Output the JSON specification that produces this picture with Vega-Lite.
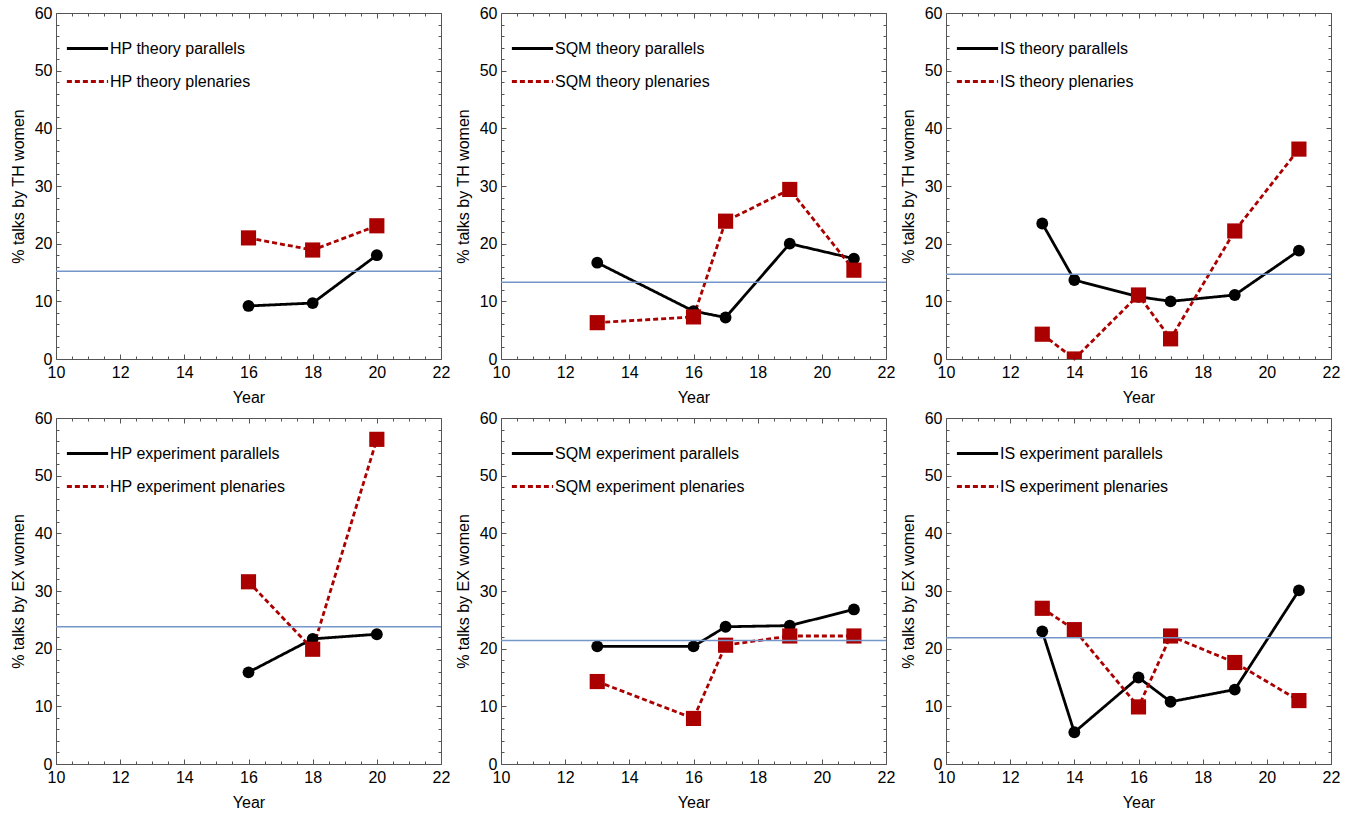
{
  "$schema": "https://vega.github.io/schema/vega-lite/v6.json",
  "padding": {"left": 10, "top": 5, "right": 5, "bottom": 5},
  "config": {
    "font": "Liberation Sans",
    "view": {"stroke": null},
    "axis": {"grid": false, "domainColor": "#555555", "tickColor": "#555555", "domainWidth": 1, "tickWidth": 1, "labelFont": "Liberation Sans", "labelFontSize": 16, "labelColor": "#000000", "titleFont": "Liberation Sans", "titleFontSize": 16, "titleFontWeight": "normal", "titleColor": "#000000", "labelFlush": false, "labelOverlap": false},
    "legend": {"labelLimit": 0}
  },
  "datasets": {
    "pts": [
      {"panel":"HP_TH","kind":"par","series":"HP theory parallels","year":16,"pct":9.2},
      {"panel":"HP_TH","kind":"par","series":"HP theory parallels","year":18,"pct":9.7},
      {"panel":"HP_TH","kind":"par","series":"HP theory parallels","year":20,"pct":18.0},
      {"panel":"HP_TH","kind":"plen","series":"HP theory plenaries","year":16,"pct":21.0},
      {"panel":"HP_TH","kind":"plen","series":"HP theory plenaries","year":18,"pct":18.9},
      {"panel":"HP_TH","kind":"plen","series":"HP theory plenaries","year":20,"pct":23.1},
      {"panel":"SQM_TH","kind":"par","series":"SQM theory parallels","year":13,"pct":16.7},
      {"panel":"SQM_TH","kind":"par","series":"SQM theory parallels","year":16,"pct":8.3},
      {"panel":"SQM_TH","kind":"par","series":"SQM theory parallels","year":17,"pct":7.2},
      {"panel":"SQM_TH","kind":"par","series":"SQM theory parallels","year":19,"pct":20.0},
      {"panel":"SQM_TH","kind":"par","series":"SQM theory parallels","year":21,"pct":17.4},
      {"panel":"SQM_TH","kind":"plen","series":"SQM theory plenaries","year":13,"pct":6.3},
      {"panel":"SQM_TH","kind":"plen","series":"SQM theory plenaries","year":16,"pct":7.3},
      {"panel":"SQM_TH","kind":"plen","series":"SQM theory plenaries","year":17,"pct":23.9},
      {"panel":"SQM_TH","kind":"plen","series":"SQM theory plenaries","year":19,"pct":29.4},
      {"panel":"SQM_TH","kind":"plen","series":"SQM theory plenaries","year":21,"pct":15.4},
      {"panel":"IS_TH","kind":"par","series":"IS theory parallels","year":13,"pct":23.5},
      {"panel":"IS_TH","kind":"par","series":"IS theory parallels","year":14,"pct":13.7},
      {"panel":"IS_TH","kind":"par","series":"IS theory parallels","year":16,"pct":10.8},
      {"panel":"IS_TH","kind":"par","series":"IS theory parallels","year":17,"pct":10.0},
      {"panel":"IS_TH","kind":"par","series":"IS theory parallels","year":19,"pct":11.1},
      {"panel":"IS_TH","kind":"par","series":"IS theory parallels","year":21,"pct":18.8},
      {"panel":"IS_TH","kind":"plen","series":"IS theory plenaries","year":13,"pct":4.3},
      {"panel":"IS_TH","kind":"plen","series":"IS theory plenaries","year":14,"pct":0.0},
      {"panel":"IS_TH","kind":"plen","series":"IS theory plenaries","year":16,"pct":11.1},
      {"panel":"IS_TH","kind":"plen","series":"IS theory plenaries","year":17,"pct":3.5},
      {"panel":"IS_TH","kind":"plen","series":"IS theory plenaries","year":19,"pct":22.2},
      {"panel":"IS_TH","kind":"plen","series":"IS theory plenaries","year":21,"pct":36.4},
      {"panel":"HP_EX","kind":"par","series":"HP experiment parallels","year":16,"pct":15.9},
      {"panel":"HP_EX","kind":"par","series":"HP experiment parallels","year":18,"pct":21.7},
      {"panel":"HP_EX","kind":"par","series":"HP experiment parallels","year":20,"pct":22.5},
      {"panel":"HP_EX","kind":"plen","series":"HP experiment plenaries","year":16,"pct":31.6},
      {"panel":"HP_EX","kind":"plen","series":"HP experiment plenaries","year":18,"pct":19.9},
      {"panel":"HP_EX","kind":"plen","series":"HP experiment plenaries","year":20,"pct":56.3},
      {"panel":"SQM_EX","kind":"par","series":"SQM experiment parallels","year":13,"pct":20.4},
      {"panel":"SQM_EX","kind":"par","series":"SQM experiment parallels","year":16,"pct":20.4},
      {"panel":"SQM_EX","kind":"par","series":"SQM experiment parallels","year":17,"pct":23.8},
      {"panel":"SQM_EX","kind":"par","series":"SQM experiment parallels","year":19,"pct":24.0},
      {"panel":"SQM_EX","kind":"par","series":"SQM experiment parallels","year":21,"pct":26.8},
      {"panel":"SQM_EX","kind":"plen","series":"SQM experiment plenaries","year":13,"pct":14.3},
      {"panel":"SQM_EX","kind":"plen","series":"SQM experiment plenaries","year":16,"pct":7.9},
      {"panel":"SQM_EX","kind":"plen","series":"SQM experiment plenaries","year":17,"pct":20.6},
      {"panel":"SQM_EX","kind":"plen","series":"SQM experiment plenaries","year":19,"pct":22.2},
      {"panel":"SQM_EX","kind":"plen","series":"SQM experiment plenaries","year":21,"pct":22.2},
      {"panel":"IS_EX","kind":"par","series":"IS experiment parallels","year":13,"pct":23.0},
      {"panel":"IS_EX","kind":"par","series":"IS experiment parallels","year":14,"pct":5.5},
      {"panel":"IS_EX","kind":"par","series":"IS experiment parallels","year":16,"pct":15.0},
      {"panel":"IS_EX","kind":"par","series":"IS experiment parallels","year":17,"pct":10.8},
      {"panel":"IS_EX","kind":"par","series":"IS experiment parallels","year":19,"pct":12.9},
      {"panel":"IS_EX","kind":"par","series":"IS experiment parallels","year":21,"pct":30.1},
      {"panel":"IS_EX","kind":"plen","series":"IS experiment plenaries","year":13,"pct":27.0},
      {"panel":"IS_EX","kind":"plen","series":"IS experiment plenaries","year":14,"pct":23.3},
      {"panel":"IS_EX","kind":"plen","series":"IS experiment plenaries","year":16,"pct":9.9},
      {"panel":"IS_EX","kind":"plen","series":"IS experiment plenaries","year":17,"pct":22.2},
      {"panel":"IS_EX","kind":"plen","series":"IS experiment plenaries","year":19,"pct":17.6},
      {"panel":"IS_EX","kind":"plen","series":"IS experiment plenaries","year":21,"pct":11.0}
    ],
    "avg": [
      {"panel":"HP_TH","avg":15.2},
      {"panel":"SQM_TH","avg":13.3},
      {"panel":"IS_TH","avg":14.7},
      {"panel":"HP_EX","avg":23.8},
      {"panel":"SQM_EX","avg":21.4},
      {"panel":"IS_EX","avg":21.9}
    ]
  },
  "bounds": "flush",
  "columns": 3,
  "spacing": {"row": 59, "column": 60},
  "resolve": {"scale": {"color": "independent", "strokeDash": "independent"}, "legend": {"color": "independent", "strokeDash": "independent"}},
  "concat": [
        {
          "width": 385, "height": 346,
          "layer": [
            {"data": {"name": "pts"}, "transform": [{"filter": "datum.panel === 'HP_TH'"}],
             "mark": {"type": "line", "strokeWidth": 2.8},
             "encoding": {
               "x": {"field": "year", "type": "quantitative", "scale": {"domain": [10, 22], "nice": false, "zero": false}, "axis": {"orient": "bottom", "values": [10,12,14,16,18,20,22], "tickSize": -5, "labelPadding": 10, "title": "Year", "titlePadding": 9}},
               "y": {"field": "pct", "type": "quantitative", "scale": {"domain": [0, 60], "nice": false}, "axis": {"orient": "left", "values": [0,10,20,30,40,50,60], "tickSize": -5, "labelPadding": 9, "title": "% talks by TH women", "titlePadding": 8}},
               "color": {"field": "series", "type": "nominal", "scale": {"range": ["#000000", "#aa0000"]}, "legend": {"title": null, "orient": "none", "legendX": 9, "legendY": 13, "symbolType": "stroke", "symbolSize": 1700, "symbolStrokeWidth": 3, "labelFontSize": 16, "labelColor": "#000000", "rowPadding": 2, "labelOffset": 0}},
               "strokeDash": {"field": "series", "type": "nominal", "scale": {"range": [[1, 0], [5, 3]]}, "legend": {"title": null, "orient": "none", "legendX": 9, "legendY": 13, "symbolType": "stroke", "symbolSize": 1700, "symbolStrokeWidth": 3, "labelFontSize": 16, "labelColor": "#000000", "rowPadding": 2, "labelOffset": 0}}
             }},
            {"data": {"name": "pts"}, "transform": [{"filter": "datum.panel === 'HP_TH' && datum.kind === 'par'"}],
             "mark": {"type": "circle", "size": 140, "color": "#000000", "opacity": 1},
             "encoding": {
               "x": {"field": "year", "type": "quantitative", "axis": {"orient": "bottom", "values": [10.5,11,11.5,12.5,13,13.5,14.5,15,15.5,16.5,17,17.5,18.5,19,19.5,20.5,21,21.5], "tickSize": -3, "labels": false, "domain": false, "title": null}},
               "y": {"field": "pct", "type": "quantitative", "axis": {"orient": "left", "values": [2,4,6,8,12,14,16,18,22,24,26,28,32,34,36,38,42,44,46,48,52,54,56,58], "tickSize": -3, "labels": false, "domain": false, "title": null}}
             }},
            {"data": {"name": "pts"}, "transform": [{"filter": "datum.panel === 'HP_TH' && datum.kind === 'plen'"}],
             "mark": {"type": "square", "size": 230, "color": "#aa0000", "opacity": 1, "clip": true},
             "encoding": {
               "x": {"field": "year", "type": "quantitative", "axis": {"orient": "top", "values": [10,12,14,16,18,20,22], "tickSize": -5, "labels": false, "title": null}},
               "y": {"field": "pct", "type": "quantitative", "axis": {"orient": "right", "values": [0,10,20,30,40,50,60], "tickSize": -5, "labels": false, "title": null}}
             }},
            {"data": {"name": "avg"}, "transform": [{"filter": "datum.panel === 'HP_TH'"}],
             "mark": {"type": "rule", "color": "#7596c9", "strokeWidth": 1.5},
             "encoding": {
               "x": {"datum": 10, "type": "quantitative", "axis": {"orient": "top", "values": [10.5,11,11.5,12.5,13,13.5,14.5,15,15.5,16.5,17,17.5,18.5,19,19.5,20.5,21,21.5], "tickSize": -3, "labels": false, "domain": false, "title": null}},
               "x2": {"datum": 22},
               "y": {"field": "avg", "type": "quantitative", "axis": {"orient": "right", "values": [2,4,6,8,12,14,16,18,22,24,26,28,32,34,36,38,42,44,46,48,52,54,56,58], "tickSize": -3, "labels": false, "domain": false, "title": null}}
             }}
          ],
          "resolve": {"axis": {"x": "independent", "y": "independent"}}
        },
        {
          "width": 385, "height": 346,
          "layer": [
            {"data": {"name": "pts"}, "transform": [{"filter": "datum.panel === 'SQM_TH'"}],
             "mark": {"type": "line", "strokeWidth": 2.8},
             "encoding": {
               "x": {"field": "year", "type": "quantitative", "scale": {"domain": [10, 22], "nice": false, "zero": false}, "axis": {"orient": "bottom", "values": [10,12,14,16,18,20,22], "tickSize": -5, "labelPadding": 10, "title": "Year", "titlePadding": 9}},
               "y": {"field": "pct", "type": "quantitative", "scale": {"domain": [0, 60], "nice": false}, "axis": {"orient": "left", "values": [0,10,20,30,40,50,60], "tickSize": -5, "labelPadding": 9, "title": "% talks by TH women", "titlePadding": 8}},
               "color": {"field": "series", "type": "nominal", "scale": {"range": ["#000000", "#aa0000"]}, "legend": {"title": null, "orient": "none", "legendX": 9, "legendY": 13, "symbolType": "stroke", "symbolSize": 1700, "symbolStrokeWidth": 3, "labelFontSize": 16, "labelColor": "#000000", "rowPadding": 2, "labelOffset": 0}},
               "strokeDash": {"field": "series", "type": "nominal", "scale": {"range": [[1, 0], [5, 3]]}, "legend": {"title": null, "orient": "none", "legendX": 9, "legendY": 13, "symbolType": "stroke", "symbolSize": 1700, "symbolStrokeWidth": 3, "labelFontSize": 16, "labelColor": "#000000", "rowPadding": 2, "labelOffset": 0}}
             }},
            {"data": {"name": "pts"}, "transform": [{"filter": "datum.panel === 'SQM_TH' && datum.kind === 'par'"}],
             "mark": {"type": "circle", "size": 140, "color": "#000000", "opacity": 1},
             "encoding": {
               "x": {"field": "year", "type": "quantitative", "axis": {"orient": "bottom", "values": [10.5,11,11.5,12.5,13,13.5,14.5,15,15.5,16.5,17,17.5,18.5,19,19.5,20.5,21,21.5], "tickSize": -3, "labels": false, "domain": false, "title": null}},
               "y": {"field": "pct", "type": "quantitative", "axis": {"orient": "left", "values": [2,4,6,8,12,14,16,18,22,24,26,28,32,34,36,38,42,44,46,48,52,54,56,58], "tickSize": -3, "labels": false, "domain": false, "title": null}}
             }},
            {"data": {"name": "pts"}, "transform": [{"filter": "datum.panel === 'SQM_TH' && datum.kind === 'plen'"}],
             "mark": {"type": "square", "size": 230, "color": "#aa0000", "opacity": 1, "clip": true},
             "encoding": {
               "x": {"field": "year", "type": "quantitative", "axis": {"orient": "top", "values": [10,12,14,16,18,20,22], "tickSize": -5, "labels": false, "title": null}},
               "y": {"field": "pct", "type": "quantitative", "axis": {"orient": "right", "values": [0,10,20,30,40,50,60], "tickSize": -5, "labels": false, "title": null}}
             }},
            {"data": {"name": "avg"}, "transform": [{"filter": "datum.panel === 'SQM_TH'"}],
             "mark": {"type": "rule", "color": "#7596c9", "strokeWidth": 1.5},
             "encoding": {
               "x": {"datum": 10, "type": "quantitative", "axis": {"orient": "top", "values": [10.5,11,11.5,12.5,13,13.5,14.5,15,15.5,16.5,17,17.5,18.5,19,19.5,20.5,21,21.5], "tickSize": -3, "labels": false, "domain": false, "title": null}},
               "x2": {"datum": 22},
               "y": {"field": "avg", "type": "quantitative", "axis": {"orient": "right", "values": [2,4,6,8,12,14,16,18,22,24,26,28,32,34,36,38,42,44,46,48,52,54,56,58], "tickSize": -3, "labels": false, "domain": false, "title": null}}
             }}
          ],
          "resolve": {"axis": {"x": "independent", "y": "independent"}}
        },
        {
          "width": 385, "height": 346,
          "layer": [
            {"data": {"name": "pts"}, "transform": [{"filter": "datum.panel === 'IS_TH'"}],
             "mark": {"type": "line", "strokeWidth": 2.8},
             "encoding": {
               "x": {"field": "year", "type": "quantitative", "scale": {"domain": [10, 22], "nice": false, "zero": false}, "axis": {"orient": "bottom", "values": [10,12,14,16,18,20,22], "tickSize": -5, "labelPadding": 10, "title": "Year", "titlePadding": 9}},
               "y": {"field": "pct", "type": "quantitative", "scale": {"domain": [0, 60], "nice": false}, "axis": {"orient": "left", "values": [0,10,20,30,40,50,60], "tickSize": -5, "labelPadding": 9, "title": "% talks by TH women", "titlePadding": 8}},
               "color": {"field": "series", "type": "nominal", "scale": {"range": ["#000000", "#aa0000"]}, "legend": {"title": null, "orient": "none", "legendX": 9, "legendY": 13, "symbolType": "stroke", "symbolSize": 1700, "symbolStrokeWidth": 3, "labelFontSize": 16, "labelColor": "#000000", "rowPadding": 2, "labelOffset": 0}},
               "strokeDash": {"field": "series", "type": "nominal", "scale": {"range": [[1, 0], [5, 3]]}, "legend": {"title": null, "orient": "none", "legendX": 9, "legendY": 13, "symbolType": "stroke", "symbolSize": 1700, "symbolStrokeWidth": 3, "labelFontSize": 16, "labelColor": "#000000", "rowPadding": 2, "labelOffset": 0}}
             }},
            {"data": {"name": "pts"}, "transform": [{"filter": "datum.panel === 'IS_TH' && datum.kind === 'par'"}],
             "mark": {"type": "circle", "size": 140, "color": "#000000", "opacity": 1},
             "encoding": {
               "x": {"field": "year", "type": "quantitative", "axis": {"orient": "bottom", "values": [10.5,11,11.5,12.5,13,13.5,14.5,15,15.5,16.5,17,17.5,18.5,19,19.5,20.5,21,21.5], "tickSize": -3, "labels": false, "domain": false, "title": null}},
               "y": {"field": "pct", "type": "quantitative", "axis": {"orient": "left", "values": [2,4,6,8,12,14,16,18,22,24,26,28,32,34,36,38,42,44,46,48,52,54,56,58], "tickSize": -3, "labels": false, "domain": false, "title": null}}
             }},
            {"data": {"name": "pts"}, "transform": [{"filter": "datum.panel === 'IS_TH' && datum.kind === 'plen'"}],
             "mark": {"type": "square", "size": 230, "color": "#aa0000", "opacity": 1, "clip": true},
             "encoding": {
               "x": {"field": "year", "type": "quantitative", "axis": {"orient": "top", "values": [10,12,14,16,18,20,22], "tickSize": -5, "labels": false, "title": null}},
               "y": {"field": "pct", "type": "quantitative", "axis": {"orient": "right", "values": [0,10,20,30,40,50,60], "tickSize": -5, "labels": false, "title": null}}
             }},
            {"data": {"name": "avg"}, "transform": [{"filter": "datum.panel === 'IS_TH'"}],
             "mark": {"type": "rule", "color": "#7596c9", "strokeWidth": 1.5},
             "encoding": {
               "x": {"datum": 10, "type": "quantitative", "axis": {"orient": "top", "values": [10.5,11,11.5,12.5,13,13.5,14.5,15,15.5,16.5,17,17.5,18.5,19,19.5,20.5,21,21.5], "tickSize": -3, "labels": false, "domain": false, "title": null}},
               "x2": {"datum": 22},
               "y": {"field": "avg", "type": "quantitative", "axis": {"orient": "right", "values": [2,4,6,8,12,14,16,18,22,24,26,28,32,34,36,38,42,44,46,48,52,54,56,58], "tickSize": -3, "labels": false, "domain": false, "title": null}}
             }}
          ],
          "resolve": {"axis": {"x": "independent", "y": "independent"}}
        },
        {
          "width": 385, "height": 346,
          "layer": [
            {"data": {"name": "pts"}, "transform": [{"filter": "datum.panel === 'HP_EX'"}],
             "mark": {"type": "line", "strokeWidth": 2.8},
             "encoding": {
               "x": {"field": "year", "type": "quantitative", "scale": {"domain": [10, 22], "nice": false, "zero": false}, "axis": {"orient": "bottom", "values": [10,12,14,16,18,20,22], "tickSize": -5, "labelPadding": 10, "title": "Year", "titlePadding": 9}},
               "y": {"field": "pct", "type": "quantitative", "scale": {"domain": [0, 60], "nice": false}, "axis": {"orient": "left", "values": [0,10,20,30,40,50,60], "tickSize": -5, "labelPadding": 9, "title": "% talks by EX women", "titlePadding": 8}},
               "color": {"field": "series", "type": "nominal", "scale": {"range": ["#000000", "#aa0000"]}, "legend": {"title": null, "orient": "none", "legendX": 9, "legendY": 13, "symbolType": "stroke", "symbolSize": 1700, "symbolStrokeWidth": 3, "labelFontSize": 16, "labelColor": "#000000", "rowPadding": 2, "labelOffset": 0}},
               "strokeDash": {"field": "series", "type": "nominal", "scale": {"range": [[1, 0], [5, 3]]}, "legend": {"title": null, "orient": "none", "legendX": 9, "legendY": 13, "symbolType": "stroke", "symbolSize": 1700, "symbolStrokeWidth": 3, "labelFontSize": 16, "labelColor": "#000000", "rowPadding": 2, "labelOffset": 0}}
             }},
            {"data": {"name": "pts"}, "transform": [{"filter": "datum.panel === 'HP_EX' && datum.kind === 'par'"}],
             "mark": {"type": "circle", "size": 140, "color": "#000000", "opacity": 1},
             "encoding": {
               "x": {"field": "year", "type": "quantitative", "axis": {"orient": "bottom", "values": [10.5,11,11.5,12.5,13,13.5,14.5,15,15.5,16.5,17,17.5,18.5,19,19.5,20.5,21,21.5], "tickSize": -3, "labels": false, "domain": false, "title": null}},
               "y": {"field": "pct", "type": "quantitative", "axis": {"orient": "left", "values": [2,4,6,8,12,14,16,18,22,24,26,28,32,34,36,38,42,44,46,48,52,54,56,58], "tickSize": -3, "labels": false, "domain": false, "title": null}}
             }},
            {"data": {"name": "pts"}, "transform": [{"filter": "datum.panel === 'HP_EX' && datum.kind === 'plen'"}],
             "mark": {"type": "square", "size": 230, "color": "#aa0000", "opacity": 1, "clip": true},
             "encoding": {
               "x": {"field": "year", "type": "quantitative", "axis": {"orient": "top", "values": [10,12,14,16,18,20,22], "tickSize": -5, "labels": false, "title": null}},
               "y": {"field": "pct", "type": "quantitative", "axis": {"orient": "right", "values": [0,10,20,30,40,50,60], "tickSize": -5, "labels": false, "title": null}}
             }},
            {"data": {"name": "avg"}, "transform": [{"filter": "datum.panel === 'HP_EX'"}],
             "mark": {"type": "rule", "color": "#7596c9", "strokeWidth": 1.5},
             "encoding": {
               "x": {"datum": 10, "type": "quantitative", "axis": {"orient": "top", "values": [10.5,11,11.5,12.5,13,13.5,14.5,15,15.5,16.5,17,17.5,18.5,19,19.5,20.5,21,21.5], "tickSize": -3, "labels": false, "domain": false, "title": null}},
               "x2": {"datum": 22},
               "y": {"field": "avg", "type": "quantitative", "axis": {"orient": "right", "values": [2,4,6,8,12,14,16,18,22,24,26,28,32,34,36,38,42,44,46,48,52,54,56,58], "tickSize": -3, "labels": false, "domain": false, "title": null}}
             }}
          ],
          "resolve": {"axis": {"x": "independent", "y": "independent"}}
        },
        {
          "width": 385, "height": 346,
          "layer": [
            {"data": {"name": "pts"}, "transform": [{"filter": "datum.panel === 'SQM_EX'"}],
             "mark": {"type": "line", "strokeWidth": 2.8},
             "encoding": {
               "x": {"field": "year", "type": "quantitative", "scale": {"domain": [10, 22], "nice": false, "zero": false}, "axis": {"orient": "bottom", "values": [10,12,14,16,18,20,22], "tickSize": -5, "labelPadding": 10, "title": "Year", "titlePadding": 9}},
               "y": {"field": "pct", "type": "quantitative", "scale": {"domain": [0, 60], "nice": false}, "axis": {"orient": "left", "values": [0,10,20,30,40,50,60], "tickSize": -5, "labelPadding": 9, "title": "% talks by EX women", "titlePadding": 8}},
               "color": {"field": "series", "type": "nominal", "scale": {"range": ["#000000", "#aa0000"]}, "legend": {"title": null, "orient": "none", "legendX": 9, "legendY": 13, "symbolType": "stroke", "symbolSize": 1700, "symbolStrokeWidth": 3, "labelFontSize": 16, "labelColor": "#000000", "rowPadding": 2, "labelOffset": 0}},
               "strokeDash": {"field": "series", "type": "nominal", "scale": {"range": [[1, 0], [5, 3]]}, "legend": {"title": null, "orient": "none", "legendX": 9, "legendY": 13, "symbolType": "stroke", "symbolSize": 1700, "symbolStrokeWidth": 3, "labelFontSize": 16, "labelColor": "#000000", "rowPadding": 2, "labelOffset": 0}}
             }},
            {"data": {"name": "pts"}, "transform": [{"filter": "datum.panel === 'SQM_EX' && datum.kind === 'par'"}],
             "mark": {"type": "circle", "size": 140, "color": "#000000", "opacity": 1},
             "encoding": {
               "x": {"field": "year", "type": "quantitative", "axis": {"orient": "bottom", "values": [10.5,11,11.5,12.5,13,13.5,14.5,15,15.5,16.5,17,17.5,18.5,19,19.5,20.5,21,21.5], "tickSize": -3, "labels": false, "domain": false, "title": null}},
               "y": {"field": "pct", "type": "quantitative", "axis": {"orient": "left", "values": [2,4,6,8,12,14,16,18,22,24,26,28,32,34,36,38,42,44,46,48,52,54,56,58], "tickSize": -3, "labels": false, "domain": false, "title": null}}
             }},
            {"data": {"name": "pts"}, "transform": [{"filter": "datum.panel === 'SQM_EX' && datum.kind === 'plen'"}],
             "mark": {"type": "square", "size": 230, "color": "#aa0000", "opacity": 1, "clip": true},
             "encoding": {
               "x": {"field": "year", "type": "quantitative", "axis": {"orient": "top", "values": [10,12,14,16,18,20,22], "tickSize": -5, "labels": false, "title": null}},
               "y": {"field": "pct", "type": "quantitative", "axis": {"orient": "right", "values": [0,10,20,30,40,50,60], "tickSize": -5, "labels": false, "title": null}}
             }},
            {"data": {"name": "avg"}, "transform": [{"filter": "datum.panel === 'SQM_EX'"}],
             "mark": {"type": "rule", "color": "#7596c9", "strokeWidth": 1.5},
             "encoding": {
               "x": {"datum": 10, "type": "quantitative", "axis": {"orient": "top", "values": [10.5,11,11.5,12.5,13,13.5,14.5,15,15.5,16.5,17,17.5,18.5,19,19.5,20.5,21,21.5], "tickSize": -3, "labels": false, "domain": false, "title": null}},
               "x2": {"datum": 22},
               "y": {"field": "avg", "type": "quantitative", "axis": {"orient": "right", "values": [2,4,6,8,12,14,16,18,22,24,26,28,32,34,36,38,42,44,46,48,52,54,56,58], "tickSize": -3, "labels": false, "domain": false, "title": null}}
             }}
          ],
          "resolve": {"axis": {"x": "independent", "y": "independent"}}
        },
        {
          "width": 385, "height": 346,
          "layer": [
            {"data": {"name": "pts"}, "transform": [{"filter": "datum.panel === 'IS_EX'"}],
             "mark": {"type": "line", "strokeWidth": 2.8},
             "encoding": {
               "x": {"field": "year", "type": "quantitative", "scale": {"domain": [10, 22], "nice": false, "zero": false}, "axis": {"orient": "bottom", "values": [10,12,14,16,18,20,22], "tickSize": -5, "labelPadding": 10, "title": "Year", "titlePadding": 9}},
               "y": {"field": "pct", "type": "quantitative", "scale": {"domain": [0, 60], "nice": false}, "axis": {"orient": "left", "values": [0,10,20,30,40,50,60], "tickSize": -5, "labelPadding": 9, "title": "% talks by EX women", "titlePadding": 8}},
               "color": {"field": "series", "type": "nominal", "scale": {"range": ["#000000", "#aa0000"]}, "legend": {"title": null, "orient": "none", "legendX": 9, "legendY": 13, "symbolType": "stroke", "symbolSize": 1700, "symbolStrokeWidth": 3, "labelFontSize": 16, "labelColor": "#000000", "rowPadding": 2, "labelOffset": 0}},
               "strokeDash": {"field": "series", "type": "nominal", "scale": {"range": [[1, 0], [5, 3]]}, "legend": {"title": null, "orient": "none", "legendX": 9, "legendY": 13, "symbolType": "stroke", "symbolSize": 1700, "symbolStrokeWidth": 3, "labelFontSize": 16, "labelColor": "#000000", "rowPadding": 2, "labelOffset": 0}}
             }},
            {"data": {"name": "pts"}, "transform": [{"filter": "datum.panel === 'IS_EX' && datum.kind === 'par'"}],
             "mark": {"type": "circle", "size": 140, "color": "#000000", "opacity": 1},
             "encoding": {
               "x": {"field": "year", "type": "quantitative", "axis": {"orient": "bottom", "values": [10.5,11,11.5,12.5,13,13.5,14.5,15,15.5,16.5,17,17.5,18.5,19,19.5,20.5,21,21.5], "tickSize": -3, "labels": false, "domain": false, "title": null}},
               "y": {"field": "pct", "type": "quantitative", "axis": {"orient": "left", "values": [2,4,6,8,12,14,16,18,22,24,26,28,32,34,36,38,42,44,46,48,52,54,56,58], "tickSize": -3, "labels": false, "domain": false, "title": null}}
             }},
            {"data": {"name": "pts"}, "transform": [{"filter": "datum.panel === 'IS_EX' && datum.kind === 'plen'"}],
             "mark": {"type": "square", "size": 230, "color": "#aa0000", "opacity": 1, "clip": true},
             "encoding": {
               "x": {"field": "year", "type": "quantitative", "axis": {"orient": "top", "values": [10,12,14,16,18,20,22], "tickSize": -5, "labels": false, "title": null}},
               "y": {"field": "pct", "type": "quantitative", "axis": {"orient": "right", "values": [0,10,20,30,40,50,60], "tickSize": -5, "labels": false, "title": null}}
             }},
            {"data": {"name": "avg"}, "transform": [{"filter": "datum.panel === 'IS_EX'"}],
             "mark": {"type": "rule", "color": "#7596c9", "strokeWidth": 1.5},
             "encoding": {
               "x": {"datum": 10, "type": "quantitative", "axis": {"orient": "top", "values": [10.5,11,11.5,12.5,13,13.5,14.5,15,15.5,16.5,17,17.5,18.5,19,19.5,20.5,21,21.5], "tickSize": -3, "labels": false, "domain": false, "title": null}},
               "x2": {"datum": 22},
               "y": {"field": "avg", "type": "quantitative", "axis": {"orient": "right", "values": [2,4,6,8,12,14,16,18,22,24,26,28,32,34,36,38,42,44,46,48,52,54,56,58], "tickSize": -3, "labels": false, "domain": false, "title": null}}
             }}
          ],
          "resolve": {"axis": {"x": "independent", "y": "independent"}}
        }
  ]
}
